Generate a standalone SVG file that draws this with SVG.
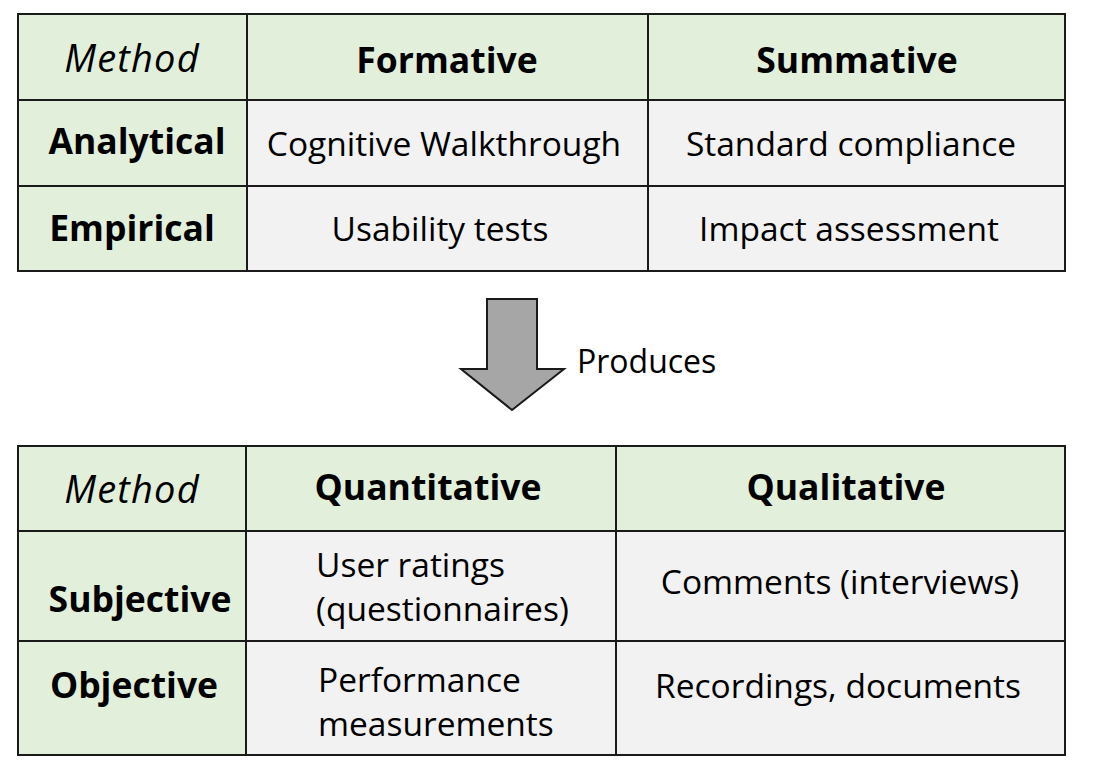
<svg xmlns="http://www.w3.org/2000/svg" width="1116" height="768" viewBox="0 0 1116 768">
<style>
.hd{fill:#e2efda;stroke:#1a1a1a;stroke-width:2}
.bd{fill:#f2f2f2;stroke:#1a1a1a;stroke-width:2}
text{font-family:"Open Sans","Noto Sans",sans-serif;font-size:33.5px;fill:#000;text-anchor:middle}
.b{font-weight:bold;font-size:35.5px}
.i{font-style:italic;font-size:38px;letter-spacing:1.2px}
.l{text-anchor:start}
</style>
<rect width="1116" height="768" fill="#ffffff"/>
<g id="table1">
<g id="t1-method"><rect class="hd" x="18" y="14" width="229" height="86"/><text class="i" x="132" y="72">Method</text></g>
<g id="t1-formative"><rect class="hd" x="247" y="14" width="401" height="86"/><text class="b" x="447" y="73">Formative</text></g>
<g id="t1-summative"><rect class="hd" x="648" y="14" width="417" height="86"/><text class="b" x="857" y="73">Summative</text></g>
<g id="t1-analytical"><rect class="hd" x="18" y="100" width="229" height="86"/><text class="b" x="137" y="154">Analytical</text></g>
<g id="t1-cw"><rect class="bd" x="247" y="100" width="401" height="86"/><text x="444" y="156">Cognitive Walkthrough</text></g>
<g id="t1-sc"><rect class="bd" x="648" y="100" width="417" height="86"/><text x="851" y="156">Standard compliance</text></g>
<g id="t1-empirical"><rect class="hd" x="18" y="186" width="229" height="85"/><text class="b" x="132" y="241">Empirical</text></g>
<g id="t1-ut"><rect class="bd" x="247" y="186" width="401" height="85"/><text x="440" y="241">Usability tests</text></g>
<g id="t1-ia"><rect class="bd" x="648" y="186" width="417" height="85"/><text x="849" y="241">Impact assessment</text></g>
</g>
<g id="connectors">
<polygon points="487,299 537,299 537,369 564,369 512,410 461,369 487,369" fill="#a6a6a6" stroke="#1a1a1a" stroke-width="2" stroke-linejoin="miter"/>
<text class="l" x="577" y="373" style="font-size:32px">Produces</text>
</g>
<g id="table2">
<g id="t2-method"><rect class="hd" x="18" y="446" width="228" height="85"/><text class="i" x="132" y="503">Method</text></g>
<g id="t2-quant"><rect class="hd" x="246" y="446" width="370" height="85"/><text class="b" x="428" y="500">Quantitative</text></g>
<g id="t2-qual"><rect class="hd" x="616" y="446" width="449" height="85"/><text class="b" x="846" y="500">Qualitative</text></g>
<g id="t2-subjective"><rect class="hd" x="18" y="531" width="228" height="110"/><text class="b" x="140" y="612">Subjective</text></g>
<g id="t2-ur"><rect class="bd" x="246" y="531" width="370" height="110"/><text class="l" x="316" y="577">User ratings</text><text class="l" x="316" y="621">(questionnaires)</text></g>
<g id="t2-comments"><rect class="bd" x="616" y="531" width="449" height="110"/><text x="840" y="594">Comments (interviews)</text></g>
<g id="t2-objective"><rect class="hd" x="18" y="641" width="228" height="114"/><text class="b" x="134" y="698">Objective</text></g>
<g id="t2-perf"><rect class="bd" x="246" y="641" width="370" height="114"/><text class="l" x="318" y="692">Performance</text><text class="l" x="318" y="736">measurements</text></g>
<g id="t2-rec"><rect class="bd" x="616" y="641" width="449" height="114"/><text x="838" y="698">Recordings, documents</text></g>
</g>
</svg>
